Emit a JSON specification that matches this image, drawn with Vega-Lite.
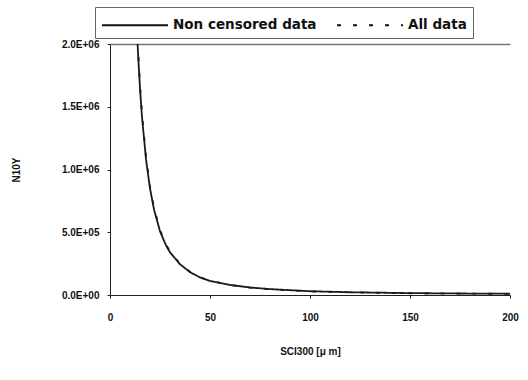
{
  "$schema": "https://vega.github.io/schema/vega-lite/v6.json",
  "width": 400,
  "height": 251,
  "autosize": {"type": "none"},
  "padding": {"left": 110, "top": 44, "right": 18, "bottom": 85},
  "background": "white",
  "config": {
    "view": {"stroke": null},
    "font": "Liberation Sans",
    "axis": {"labelFont": "Liberation Sans", "labelFontWeight": "bold", "labelFontSize": 10, "labelColor": "#111", "titleFont": "Liberation Sans", "titleFontWeight": "bold", "titleFontSize": 10, "titleColor": "#111", "domainColor": "#222", "tickColor": "#222"}
  },
  "data": {
    "values": [
      {"x": 13.5, "n": 2100000, "s": "Non censored data"},
      {"x": 14, "n": 1930000, "s": "Non censored data"},
      {"x": 15, "n": 1645000, "s": "Non censored data"},
      {"x": 16, "n": 1418000, "s": "Non censored data"},
      {"x": 18, "n": 1082000, "s": "Non censored data"},
      {"x": 20, "n": 849000, "s": "Non censored data"},
      {"x": 22, "n": 682000, "s": "Non censored data"},
      {"x": 25, "n": 508000, "s": "Non censored data"},
      {"x": 28, "n": 395000, "s": "Non censored data"},
      {"x": 30, "n": 340000, "s": "Non censored data"},
      {"x": 35, "n": 245000, "s": "Non censored data"},
      {"x": 40, "n": 182000, "s": "Non censored data"},
      {"x": 45, "n": 140000, "s": "Non censored data"},
      {"x": 50, "n": 112000, "s": "Non censored data"},
      {"x": 60, "n": 80000, "s": "Non censored data"},
      {"x": 70, "n": 60000, "s": "Non censored data"},
      {"x": 80, "n": 47000, "s": "Non censored data"},
      {"x": 100, "n": 30000, "s": "Non censored data"},
      {"x": 120, "n": 22000, "s": "Non censored data"},
      {"x": 150, "n": 15000, "s": "Non censored data"},
      {"x": 175, "n": 12000, "s": "Non censored data"},
      {"x": 200, "n": 10000, "s": "Non censored data"},
      {"x": 13.5, "n": 2150000, "s": "All data"},
      {"x": 14, "n": 1970000, "s": "All data"},
      {"x": 15, "n": 1680000, "s": "All data"},
      {"x": 16, "n": 1450000, "s": "All data"},
      {"x": 18, "n": 1100000, "s": "All data"},
      {"x": 20, "n": 865000, "s": "All data"},
      {"x": 22, "n": 695000, "s": "All data"},
      {"x": 25, "n": 518000, "s": "All data"},
      {"x": 28, "n": 402000, "s": "All data"},
      {"x": 30, "n": 346000, "s": "All data"},
      {"x": 35, "n": 249000, "s": "All data"},
      {"x": 40, "n": 185000, "s": "All data"},
      {"x": 45, "n": 142000, "s": "All data"},
      {"x": 50, "n": 113000, "s": "All data"},
      {"x": 60, "n": 80000, "s": "All data"},
      {"x": 70, "n": 59000, "s": "All data"},
      {"x": 80, "n": 46000, "s": "All data"},
      {"x": 100, "n": 29000, "s": "All data"},
      {"x": 120, "n": 21000, "s": "All data"},
      {"x": 150, "n": 14000, "s": "All data"},
      {"x": 175, "n": 11000, "s": "All data"},
      {"x": 200, "n": 9500, "s": "All data"}
    ]
  },
  "mark": {"type": "line", "clip": true, "strokeWidth": 1.8, "color": "#1a1a1a"},
  "encoding": {
    "x": {
      "field": "x", "type": "quantitative",
      "scale": {"domain": [0, 200], "nice": false, "zero": false},
      "axis": {"values": [0, 50, 100, 150, 200], "grid": false, "title": "SCI300 [μ m]", "labelPadding": 14, "tickSize": 3, "titlePadding": 24, "labelFlush": false}
    },
    "y": {
      "field": "n", "type": "quantitative",
      "scale": {"domain": [0, 2000000], "nice": false},
      "axis": {
        "values": [0, 500000, 1000000, 1500000, 2000000],
        "labelExpr": "replace(format(datum.value, '.1e'), 'e+', 'E+0')",
        "title": "N10Y", "titlePadding": 40, "tickSize": 3, "labelPadding": 8,
        "grid": true,
        "gridColor": {"condition": {"test": "datum.value == 2000000", "value": "#777"}, "value": null},
        "gridWidth": 1.5
      }
    },
    "strokeDash": {
      "field": "s", "type": "nominal",
      "sort": ["Non censored data", "All data"],
      "scale": {"domain": ["Non censored data", "All data"], "range": [[1, 0], [4, 12]]},
      "legend": {
        "title": null, "orient": "none", "legendX": -15, "legendY": -37,
        "direction": "horizontal",
        "symbolType": "M-1,0H5", "symbolSize": 484, "symbolStrokeColor": "#111", "symbolStrokeWidth": 1.8, "symbolFillColor": "transparent",
        "labelFont": "DejaVu Sans", "labelFontWeight": "bold", "labelFontSize": 13.5, "labelColor": "#111",
        "strokeColor": "#666", "padding": 6, "columnPadding": 16, "labelOffset": 48
      }
    }
  }
}
